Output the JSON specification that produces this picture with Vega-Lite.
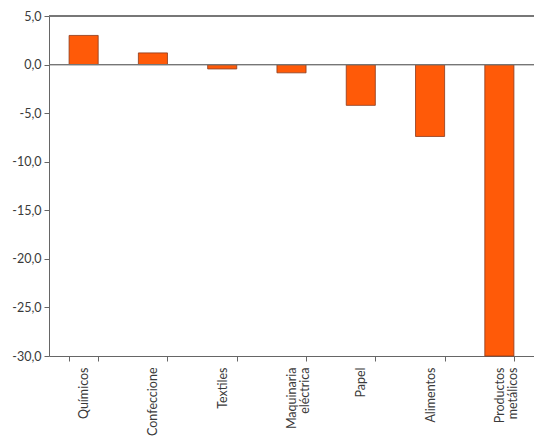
{
  "$schema": "https://vega.github.io/schema/vega-lite/v6.json",
  "autosize": {"type": "none"},
  "padding": {"left": 49, "top": 16, "right": 0, "bottom": 80},
  "width": 485,
  "height": 340,
  "background": "white",
  "config": {
    "view": {"stroke": null},
    "font": "Lato",
    "axis": {"labelFont": "Lato", "labelColor": "#3a3a3a", "labelFontSize": 12.5, "domainColor": "#666", "tickColor": "#666", "grid": false}
  },
  "data": {
    "values": [
      {"sector": "Químicos", "valor": 3.0},
      {"sector": "Confeccione", "valor": 1.2},
      {"sector": "Textiles", "valor": -0.45},
      {"sector": "Maquinaria|eléctrica", "valor": -0.85},
      {"sector": "Papel", "valor": -4.2},
      {"sector": "Alimentos", "valor": -7.4},
      {"sector": "Productos|metálicos", "valor": -30.0}
    ]
  },
  "layer": [
    {
      "mark": {"type": "bar", "color": "#ff5a08", "stroke": "#8a3a1c", "strokeWidth": 0.8},
      "encoding": {
        "x": {
          "field": "sector", "type": "nominal", "sort": null, "title": null,
          "scale": {"paddingInner": 0.58, "paddingOuter": 0.29},
          "axis": {"labelAngle": -90, "labelAlign": "right", "labelBaseline": "middle", "tickBand": "extent", "tickSize": 5, "labelPadding": 6, "labelLineHeight": 13, "labelExpr": "split(datum.label, '|')"}
        },
        "y": {
          "field": "valor", "type": "quantitative", "title": null,
          "scale": {"domain": [-30, 5], "nice": false, "zero": false},
          "axis": {"values": [5, 0, -5, -10, -15, -20, -25, -30], "tickSize": 5, "labelPadding": 3, "labelExpr": "replace(replace(format(datum.value, '.1f'), '.', ','), '\u2212', '-')"}
        }
      }
    },
    {
      "mark": {"type": "rule", "color": "#777", "strokeWidth": 1},
      "encoding": {"y": {"datum": 0}}
    },
    {
      "mark": {"type": "rule", "color": "#777", "strokeWidth": 1},
      "encoding": {"y": {"datum": 5}}
    }
  ]
}
